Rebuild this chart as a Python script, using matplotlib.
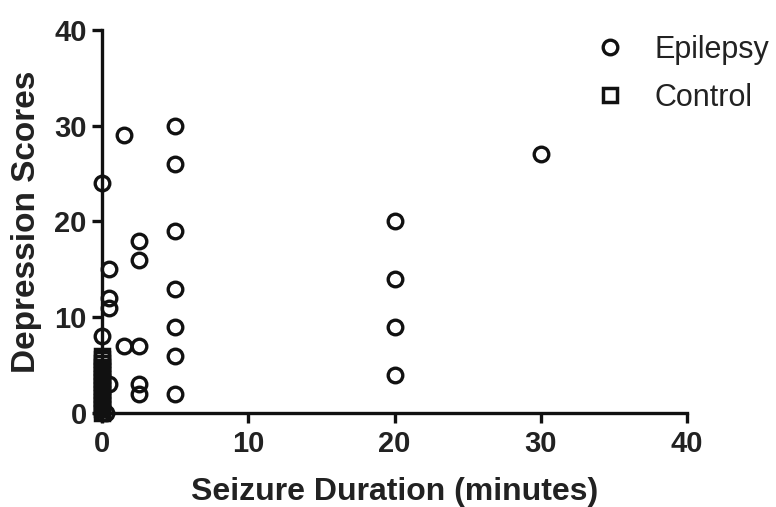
import matplotlib
matplotlib.use("Agg")
import matplotlib.pyplot as plt

FONT = "Liberation Sans"

# Epilepsy group: seizure duration (minutes) vs depression score
epi_x = [0, 0, 0, 0.3, 0.5, 0.5, 0.5, 0.5, 1.5, 1.5,
         2.5, 2.5, 2.5, 2.5, 2.5,
         5, 5, 5, 5, 5, 5, 5,
         20, 20, 20, 20, 30]
epi_y = [24, 8, 0, 0, 15, 12, 11, 3, 29, 7,
         18, 16, 7, 3, 2,
         30, 26, 19, 13, 9, 6, 2,
         20, 14, 9, 4, 27]

# Control group: no seizures
ctl_x = [0] * 16
ctl_y = [0, 0.4, 0.8, 1.2, 1.6, 2, 2.4, 2.8, 3.2, 3.6, 4, 4.4, 4.8, 5.2, 5.6, 6]

xticks = [0, 10, 20, 30, 40]
yticks = [0, 10, 20, 30, 40]

fig = plt.figure(figsize=(7.76, 5.07), dpi=100)
ax = fig.add_axes([102/776, 1 - 413/507, (687-102)/776, (413-30)/507])

ax.plot(ctl_x, ctl_y, linestyle="none", marker="s", markersize=10.5,
        markerfacecolor="none", markeredgecolor="#111111", markeredgewidth=2.5,
        label="Control", clip_on=False, zorder=3)
ax.plot(epi_x, epi_y, linestyle="none", marker="o", markersize=10.5,
        markerfacecolor="none", markeredgecolor="#111111", markeredgewidth=2.4,
        label="Epilepsy", clip_on=False, zorder=4)

ax.set_xlim(0, 40)
ax.set_ylim(0, 40)
ax.set_xticks(xticks)
ax.set_yticks(yticks)
for s in ["top", "right"]:
    ax.spines[s].set_visible(False)
for s in ["left", "bottom"]:
    ax.spines[s].set_linewidth(2.4)
    ax.spines[s].set_color("#111111")
ax.tick_params(width=2.4, length=7, color="#111111", direction="out", pad=4)
ax.tick_params(axis="x", pad=5)
for lab in ax.get_xticklabels() + ax.get_yticklabels():
    lab.set_fontfamily(FONT)
    lab.set_fontweight("bold")
    lab.set_fontsize(21)
    lab.set_color("#222222")

ax.set_xlabel("Seizure Duration (minutes)", fontfamily=FONT, fontweight="bold",
              fontsize=23, color="#222222", labelpad=14)
ax.set_ylabel("Depression Scores", fontfamily=FONT, fontweight="bold",
              fontsize=24, color="#222222", labelpad=9)

h, l = ax.get_legend_handles_labels()
leg = ax.legend(h[::-1], l[::-1], loc="upper left", bbox_to_anchor=(0.795, 1.06),
                frameon=False, prop={"family": FONT, "size": 22},
                handletextpad=0.95, labelspacing=0.6, handlelength=1.0)
for t in leg.get_texts():
    t.set_color("#222222")

fig.savefig("out.png", dpi=100)
